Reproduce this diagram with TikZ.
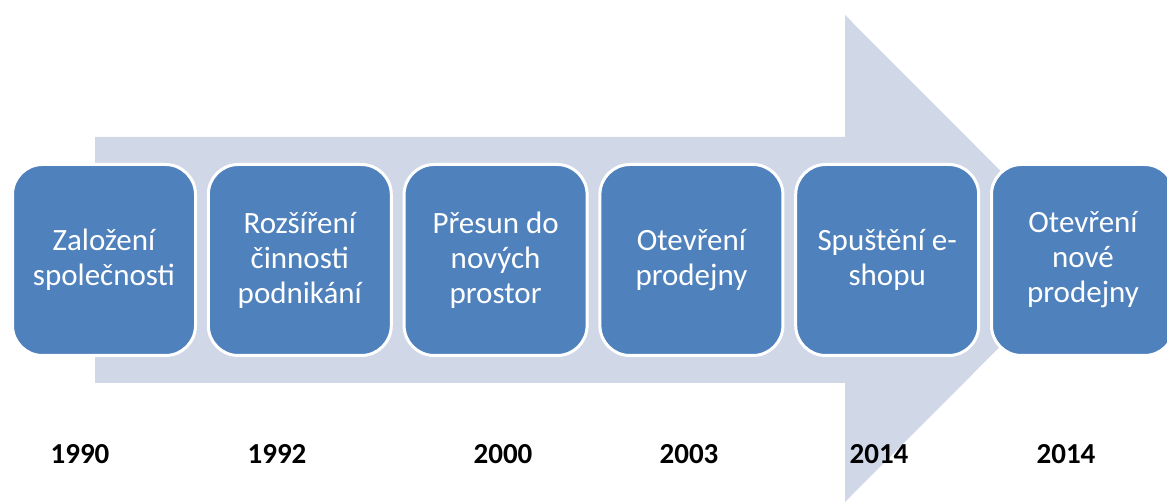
\documentclass[tikz,border=0pt]{standalone}
\usepackage{fontspec}
\setmainfont{Carlito}
\usepackage{tikz}
\usetikzlibrary{positioning}

\definecolor{boxblue}{RGB}{79,129,189}
\definecolor{arrowgray}{RGB}{208,216,232}

\begin{document}
\begin{tikzpicture}[x=1pt,y=-1pt,
	event/.style={draw=white, line width=3pt, fill=boxblue, rounded corners=30pt,
		minimum width=183pt, minimum height=191pt, text=white, align=center,
		font=\fontsize{31}{35}\selectfont},
	year/.style={anchor=base, font=\fontsize{29}{34}\selectfont\bfseries},
	node distance=9.8pt]
	\useasboundingbox (0,0) rectangle (1167,502);

	\fill[arrowgray] (95,137) -- (845,137) -- (845,15) -- (1088,258.5)
		-- (845,502) -- (845,383) -- (95,383) -- cycle;

	\node[event] (e1) at (104,260) {Založení\\společnosti};
	\node[event, right=of e1] (e2) {Rozšíření\\činnosti\\podnikání};
	\node[event, right=of e2] (e3) {Přesun do\\nových\\prostor};
	\node[event, right=of e3] (e4) {Otevření\\prodejny};
	\node[event, right=of e4] (e5) {Spuštění e-\\shopu};
	\node[event, right=of e5] (e6) {Otevření\\nové\\prodejny};

	\foreach \x/\y [count=\i] in {80/1990, 277/1992, 503/2000, 689/2003, 879/2014, 1066/2014}{
		\node[year] (y\i) at (\x,463) {\y};
	}
	%\draw (e1) -- (y1);

\end{tikzpicture}
\end{document}
